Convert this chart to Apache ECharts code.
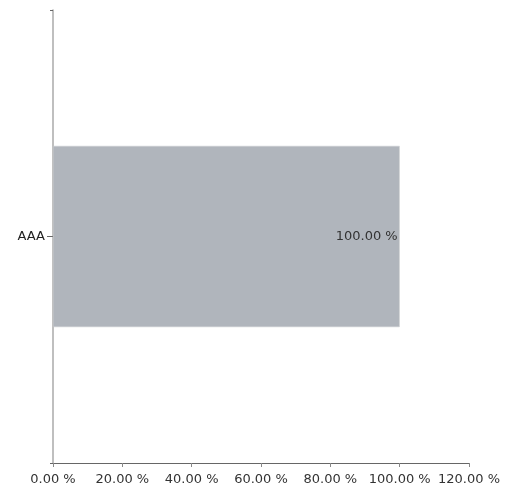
<!DOCTYPE html>
<html>
<head>
<meta charset="utf-8">
<script src="https://cdn.jsdelivr.net/npm/echarts@6/dist/echarts.min.js"></script>
<style>
html, body { margin: 0; padding: 0; background: #fff; }
#chart { width: 511px; height: 489px; }
</style>
</head>
<body>
<div id="chart"></div>
<script>
// data
var categories = ['AAA'];
var shares = [100];
var xTicks = [0, 20, 40, 60, 80, 100, 120];

function pct(v) {
    return Number(v).toFixed(2) + ' %';
}

var chart = echarts.init(document.getElementById('chart'), null, { renderer: 'canvas' });
var font = 'DejaVu Sans';
var option = {
    animation: false,
    grid: { left: 53, right: 42, top: 10, bottom: 26, containLabel: false },
    xAxis: {
        type: 'value',
        min: xTicks[0],
        max: xTicks[xTicks.length - 1],
        interval: 20,
        splitLine: { show: false },
        axisLine: { show: true, lineStyle: { color: '#666', width: 1 } },
        axisTick: { show: true, length: 4, lineStyle: { color: '#888' } },
        axisLabel: {
            color: '#333', fontFamily: font, fontSize: 13, margin: 10,
            formatter: function(v) { return pct(v); }
        }
    },
    yAxis: [{
        type: 'category',
        data: categories,
        position: 'left',
        axisLine: { show: true, lineStyle: { color: '#aaa', width: 1.5 } },
        axisTick: { show: true, alignWithLabel: true, length: 6, lineStyle: { color: '#666' } },
        axisLabel: { color: '#222', fontFamily: font, fontSize: 13, margin: 8 }
    }, {
        type: 'category',
        data: categories,
        position: 'left',
        axisLine: { show: false },
        axisTick: { show: true, length: 3, lineStyle: { color: '#666' } },
        axisLabel: { show: false }
    }],
    series: [{
        type: 'bar',
        data: shares,
        barWidth: '40%',
        itemStyle: { color: '#b0b5bc', borderColor: '#c9cccf', borderWidth: 0.5 },
        label: {
            show: true,
            position: 'insideRight',
            distance: 2,
            color: '#333',
            fontFamily: font,
            fontSize: 13,
            formatter: function(p) { return pct(p.value); }
        }
    }]
};
chart.setOption(option);
</script>
</body>
</html>
